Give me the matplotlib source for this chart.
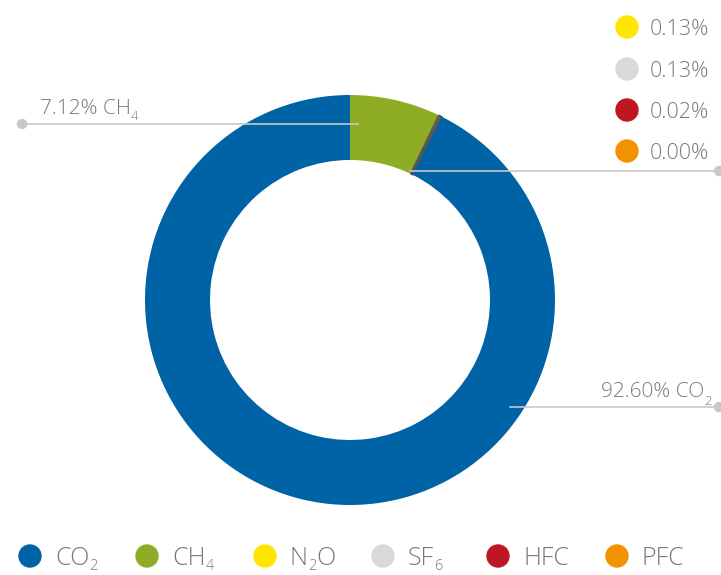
import matplotlib
matplotlib.use("Agg")
import matplotlib.pyplot as plt
from matplotlib.patches import Circle

# data
gases = ["CH4", "N2O", "SF6", "HFC", "PFC", "CO2"]
gas_main = {"CO2": ("CO", "2"), "CH4": ("CH", "4"), "N2O": ("N", "2", "O"),
            "SF6": ("SF", "6"), "HFC": ("HFC",), "PFC": ("PFC",)}
shares = [7.12, 0.13, 0.13, 0.02, 0.00, 92.60]
colors = {"CO2": "#0063a6", "CH4": "#8fac27", "N2O": "#ffe600",
          "SF6": "#d9d9d9", "HFC": "#be1622", "PFC": "#f39200"}
legend_order = ["CO2", "CH4", "N2O", "SF6", "HFC", "PFC"]
small_gases = ["N2O", "SF6", "HFC", "PFC"]

plt.rcParams['font.family'] = ['Open Sans', 'DejaVu Sans']
TXT = "#7a7a7a"
LINE = "#c8c8c8"

W, H = 721, 575
fig = plt.figure(figsize=(W / 100, H / 100), dpi=100)
ax = fig.add_axes([0, 0, 1, 1])
ax.set_xlim(0, W)
ax.set_ylim(0, H)
ax.set_aspect('equal')
ax.axis('off')
renderer = fig.canvas.get_renderer()


def Y(y):
    return H - y


def width_of(t):
    bb = t.get_window_extent(renderer=renderer)
    return bb.width


def chem_text(x, yb, parts, fs, sfs, drop, ha='left'):
    """parts alternate normal / subscript pieces; x is left (or right) edge in px."""
    tmp = []
    for i, p in enumerate(parts):
        size = fs if i % 2 == 0 else sfs
        t = ax.text(0, 0, p, fontsize=size, fontweight='light', color=TXT)
        tmp.append(width_of(t))
        t.remove()
    total = sum(tmp)
    cur = x if ha == 'left' else x - total
    for i, p in enumerate(parts):
        size = fs if i % 2 == 0 else sfs
        yy = yb if i % 2 == 0 else yb + drop
        ax.text(cur, Y(yy), p, fontsize=size, fontweight='light', color=TXT,
                ha='left', va='baseline')
        cur += tmp[i]


cx, cy, R, ring = 350, 300, 205, 65
wcols = [colors[g] for g in gases]
wedges, _ = ax.pie(shares, colors=wcols, startangle=90, counterclock=False,
                   center=(cx, Y(cy)), radius=R, frame=True,
                   wedgeprops=dict(width=ring, linewidth=0))
for w, g in zip(wedges, gases):
    if g in small_gases:
        w.set_edgecolor('#555555')
        w.set_linewidth(1.0)
ax.set_xlim(0, W)
ax.set_ylim(0, H)
ax.axis('off')

# CH4 label
ax.plot([22, 358], [Y(124), Y(124)], color=LINE, lw=1.2, zorder=3)
ax.add_patch(Circle((22, Y(124)), 4.5, color=LINE, zorder=4))
chem_text(40, 114, (f"{shares[0]:.2f}% CH", "4"), 15, 9.5, 6)
# CO2 label
ax.plot([510, 719], [Y(407), Y(407)], color=LINE, lw=1.2, zorder=3)
ax.add_patch(Circle((719, Y(407)), 4.5, color=LINE, zorder=4))
chem_text(712, 397, (f"{shares[5]:.2f}% CO", "2"), 15, 9.5, 8, ha='right')
# small gases line
ax.plot([410, 719], [Y(171), Y(171)], color=LINE, lw=1.2, zorder=3)
ax.add_patch(Circle((719, Y(171)), 4.5, color=LINE, zorder=4))

ys = [27, 69, 110, 151]
for g, yy in zip(small_gases, ys):
    v = shares[gases.index(g)]
    ax.add_patch(Circle((627, Y(yy)), 11, color=colors[g], zorder=4))
    ax.text(650, Y(yy + 8), f"{v:.2f}%", fontsize=15.5, color=TXT,
            fontweight='light', ha='left', va='baseline')

# bottom legend
lx = [30, 147, 265, 383, 498, 617]
for g, x in zip(legend_order, lx):
    ax.add_patch(Circle((x, Y(556)), 11, color=colors[g], zorder=4))
    chem_text(x + 25, 565, gas_main[g], 18, 10.5, 5)

fig.savefig("out.png", dpi=100)
